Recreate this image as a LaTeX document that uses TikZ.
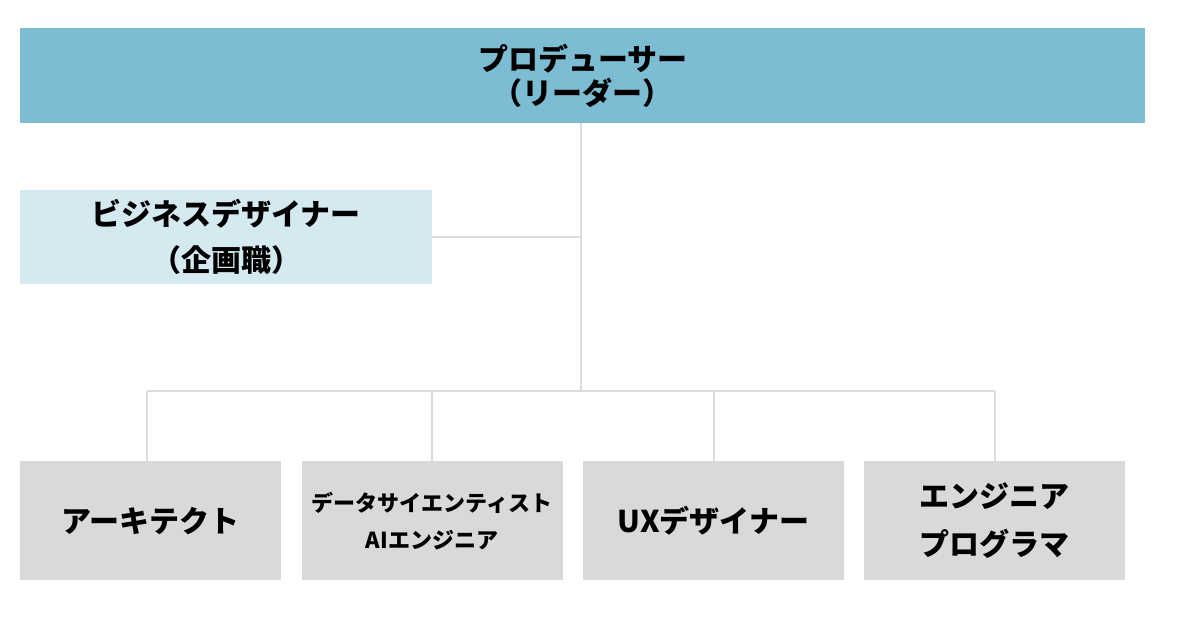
\documentclass[tikz,border=0pt]{standalone}
\usepackage{fontspec}
\setmainfont{Noto Sans CJK JP}
\usepackage{tikz}
\usetikzlibrary{positioning}

\definecolor{leadblue}{HTML}{7DBDD3}
\definecolor{paleblue}{HTML}{D4E9F0}
\definecolor{rolegray}{HTML}{D9D9D9}
\definecolor{linegray}{HTML}{DCDCDC}

\begin{document}
\begin{tikzpicture}[
    x=1pt, y=-1pt,
    node distance=20pt,
    every node/.style={font=\bfseries\fontsize{30}{34}\selectfont, inner sep=0pt},
    leadbox/.style={fill=leadblue, minimum width=1125pt, minimum height=95pt, align=center, anchor=north west},
    bizbox/.style={fill=paleblue, minimum width=412pt, minimum height=94pt, align=center, anchor=north west},
    rolebox/.style={fill=rolegray, minimum width=261pt, minimum height=119pt, align=center},
    link/.style={draw=linegray, line width=2pt}
]
\useasboundingbox (0,0) rectangle (1200,624);

\node (lead) [leadbox] at (20,28) {プロデューサー\\（リーダー）};
\node (biz) [bizbox, font=\bfseries\fontsize{30}{46}\selectfont] at (20,190) {ビジネスデザイナー\\（企画職）};

\node (arch) [rolebox, anchor=north west] at (20,461) {アーキテクト};
\node (ds) [rolebox, right=of arch, font=\bfseries\fontsize{22}{37}\selectfont] {データサイエンティスト\\AIエンジニア};
\node (ux) [rolebox, right=of ds] {UXデザイナー};
\node (eng) [rolebox, right=of ux, font=\bfseries\fontsize{30}{48}\selectfont] {エンジニア\\プログラマ};

\coordinate (bus) at (581,391);

\draw [link] (lead.south -| bus) -- (bus);
\draw [link] (biz.east) -- (biz.east -| bus);
\draw [link] ([xshift=-4pt]arch.north |- bus) -- (eng.north |- bus);
\draw [link] ([xshift=-4pt]arch.north) -- ([xshift=-4pt]arch.north |- bus);
\foreach \n in {ds, ux, eng}
    \draw [link] (\n.north) -- (\n.north |- bus);

\end{tikzpicture}
\end{document}
